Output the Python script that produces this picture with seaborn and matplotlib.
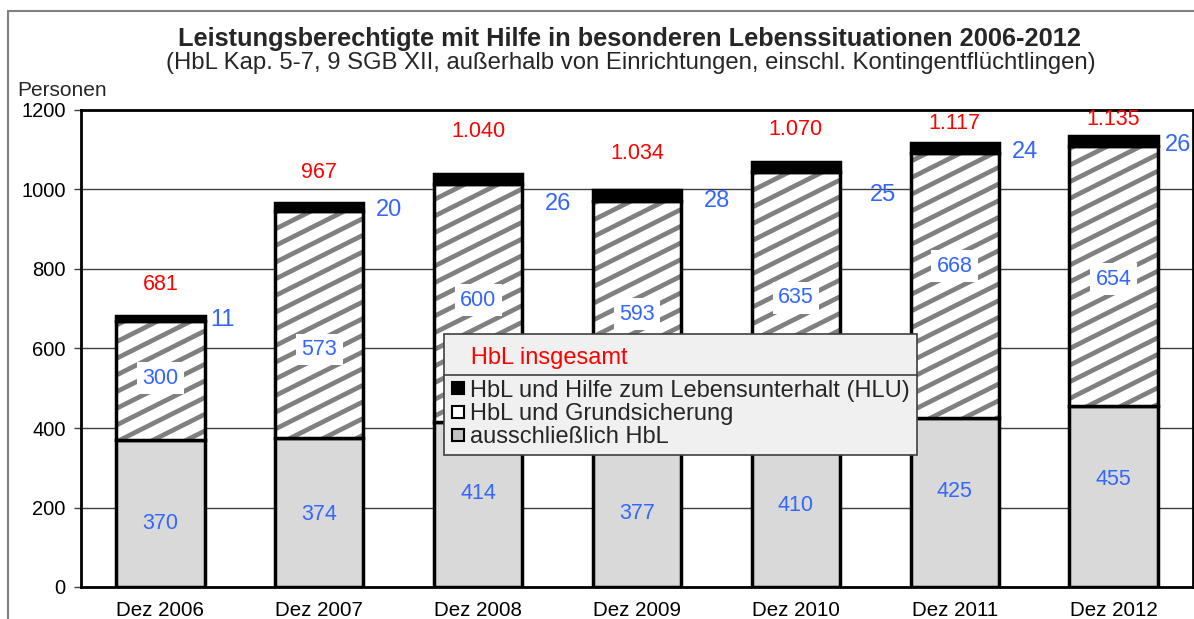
import matplotlib
matplotlib.use("Agg")
import matplotlib.pyplot as plt
from matplotlib import hatch as mhatch
from matplotlib.lines import Line2D
from matplotlib.path import Path
import numpy as np
import pandas as pd
import seaborn as sns

# Daten: Leistungsberechtigte HbL jeweils zum Dezember
jahre = ["Dez 2006", "Dez 2007", "Dez 2008", "Dez 2009", "Dez 2010", "Dez 2011", "Dez 2012"]
nur_hbl = [370, 374, 414, 377, 410, 425, 455]
hbl_grundsicherung = [300, 573, 600, 593, 635, 668, 654]
hbl_hlu = [11, 20, 26, 28, 25, 24, 26]
insgesamt = [681, 967, 1040, 1034, 1070, 1117, 1135]
y_ticks = [0, 200, 400, 600, 800, 1000, 1200]

# Label-Verschiebungen in Pixeln (wie im Original von Hand gesetzt)
total_dy = [32, 30, 42, 37, 32, 19, 16]
hlu_dx = [6, 13, 23, 23, 30, 13, 7]
hlu_dy = [-4, -7, -30, -11, -33, -9, -9]
gs_dy = [2, -25, 3, 5, 0, 19, -3]
nur_dy = [-10, -2, 11, -1, 0, 11, 17]

W, H = 1194, 619
BAR_W = 0.555
GRAU = "#d9d9d9"
HATCH_GRAU = "#808080"
ROT = "#ff0000"
BLAU = "#3366ff"


class FlacheSchraffur(mhatch.HatchPatternBase):
    """'/'-Schraffur mit Steigung 1/2 (wie das Excel-Muster), kachelbar."""

    def __init__(self, hatch, density):
        n = int(hatch.count("/") * density)
        self.offsets = np.arange(-n, 2 * n) / n if n else np.array([])
        self.num_vertices = len(self.offsets) * 2

    def set_vertices_and_codes(self, vertices, codes):
        c = self.offsets
        vertices[0::2, 0] = -0.5
        vertices[0::2, 1] = c - 0.25
        vertices[1::2, 0] = 1.5
        vertices[1::2, 1] = c + 0.75
        codes[0::2] = Path.MOVETO
        codes[1::2] = Path.LINETO


mhatch._hatch_types = [FlacheSchraffur if t is mhatch.NorthEastHatch else t
                       for t in mhatch._hatch_types]

df = pd.DataFrame({
    "jahr": jahre,
    "nur": nur_hbl,
    "gs": hbl_grundsicherung,
    "hlu": hbl_hlu,
})
df["bottom_hlu"] = df["nur"] + df["gs"]

sns.set_theme(style="white")
plt.rcParams["font.family"] = ["Liberation Sans", "DejaVu Sans"]
plt.rcParams["hatch.linewidth"] = 3.4

fig = plt.figure(figsize=(W / 100, H / 100), dpi=100)
ax = fig.add_axes([81 / W, (H - 587) / H, (1193 - 81) / W, (587 - 110) / H])

# ausschließlich HbL
sns.barplot(data=df, x="jahr", y="nur", color=GRAU, saturation=1, width=BAR_W,
            edgecolor="black", linewidth=2.5, ax=ax)
# HbL und Grundsicherung: Schraffur und Umriss getrennt
sns.barplot(data=df, x="jahr", y="gs", bottom=df["nur"], color="white", saturation=1,
            width=BAR_W, edgecolor=HATCH_GRAU, linewidth=0, hatch="/", ax=ax)
sns.barplot(data=df, x="jahr", y="gs", bottom=df["nur"], fill=False, color="black",
            width=BAR_W, linewidth=2.5, ax=ax)
# HbL und HLU
sns.barplot(data=df, x="jahr", y="hlu", bottom=df["bottom_hlu"], color="black",
            saturation=1, width=BAR_W, edgecolor="black", linewidth=2.5, ax=ax)

ax.set_xlim(-0.5, len(jahre) - 0.5)
ax.set_ylim(0, 1200)
ax.set_yticks(y_ticks)
ax.set_xlabel("")
ax.set_ylabel("")
ax.set_axisbelow(True)
ax.yaxis.grid(True, color="#404040", linewidth=1)
ax.xaxis.grid(False)
for sp in ax.spines.values():
    sp.set_color("black")
    sp.set_linewidth(2)
ax.tick_params(axis="y", left=True, length=5, width=1, color="#404040",
               labelsize=14.5, pad=6, labelcolor="black")
ax.tick_params(axis="x", bottom=False, length=0, labelsize=14.8, pad=10, labelcolor="black")

# Beschriftungen
for i in range(len(jahre)):
    top = nur_hbl[i] + hbl_grundsicherung[i] + hbl_hlu[i]
    txt = f"{insgesamt[i]:,}".replace(",", ".")
    ax.annotate(txt, (i, top), xytext=(0, total_dy[i]), textcoords="offset pixels",
                ha="center", va="center", color=ROT, fontsize=15.5)
    ax.annotate(str(hbl_hlu[i]), (i + BAR_W / 2, top), xytext=(hlu_dx[i], hlu_dy[i]),
                textcoords="offset pixels", ha="left", va="center", color=BLAU, fontsize=17)
    mid_gs = nur_hbl[i] + hbl_grundsicherung[i] / 2
    ax.annotate(str(hbl_grundsicherung[i]), (i, mid_gs), xytext=(0, gs_dy[i]),
                textcoords="offset pixels", ha="center", va="center", color=BLAU, fontsize=15.5,
                bbox=dict(boxstyle="square,pad=0.25", facecolor="white", edgecolor="none"))
    ax.annotate(str(nur_hbl[i]), (i, nur_hbl[i] / 2), xytext=(0, nur_dy[i]),
                textcoords="offset pixels", ha="center", va="center", color=BLAU, fontsize=15.5)

# Legende
handles = [
    Line2D([], [], linestyle="none", marker="s", markersize=9, markerfacecolor="black",
           markeredgecolor="black", markeredgewidth=1.5),
    Line2D([], [], linestyle="none", marker="s", markersize=9, markerfacecolor="white",
           markeredgecolor="black", markeredgewidth=1.5),
    Line2D([], [], linestyle="none", marker="s", markersize=9, markerfacecolor="#c0c0c0",
           markeredgecolor="black", markeredgewidth=1.5),
]
labels = ["HbL und Hilfe zum Lebensunterhalt (HLU)", "HbL und Grundsicherung",
          "ausschließlich HbL"]
leg = ax.legend(handles, labels, title="   HbL insgesamt", title_fontsize=17,
                loc="upper left", bbox_to_anchor=((444 - 81) / 1112, (587 - 334) / 477),
                fontsize=17, frameon=True, fancybox=False, edgecolor="#404040",
                facecolor="#f0f0f0", framealpha=1, handlelength=0.6, handletextpad=0.2,
                borderpad=0.3, labelspacing=0.05, borderaxespad=0, alignment="left")
leg.get_title().set_color(ROT)
leg.get_title().set_position((0, -6))
leg.get_frame().set_linewidth(1.2)
leg._legend_box.sep = 12

# Titel
fig.text(630 / W, 1 - 39 / H,
         "Leistungsberechtigte mit Hilfe in besonderen Lebenssituationen 2006-2012",
         ha="center", va="center", fontsize=18.3, fontweight="bold")
fig.text(631 / W, 1 - 63 / H,
         "(HbL Kap. 5-7, 9 SGB XII, außerhalb von Einrichtungen, einschl. Kontingentflüchtlingen)",
         ha="center", va="center", fontsize=17.2)
fig.text(17 / W, 1 - 90 / H, "Personen", ha="left", va="center", fontsize=15)

# Rahmen des Diagrammbereichs
fig.add_artist(Line2D([8 / W, 8 / W], [0, 1 - 11 / H], color="#808080", linewidth=1.5))
fig.add_artist(Line2D([8 / W, 1], [1 - 11 / H, 1 - 11 / H], color="#808080", linewidth=1.5))

# Trennlinie unter dem Legendentitel
fig.canvas.draw()
r = fig.canvas.get_renderer()
fbb = leg.get_frame().get_window_extent(r)
ebb = leg.get_texts()[0].get_window_extent(r)
y_sep = ebb.y1 + 5
inv = fig.transFigure.inverted()
(x0, y0), (x1, _) = inv.transform([(fbb.x0, y_sep), (fbb.x1, y_sep)])
fig.add_artist(Line2D([x0, x1], [y0, y0], color="#404040", linewidth=1.2, zorder=10))

fig.savefig("out.png", dpi=100)
